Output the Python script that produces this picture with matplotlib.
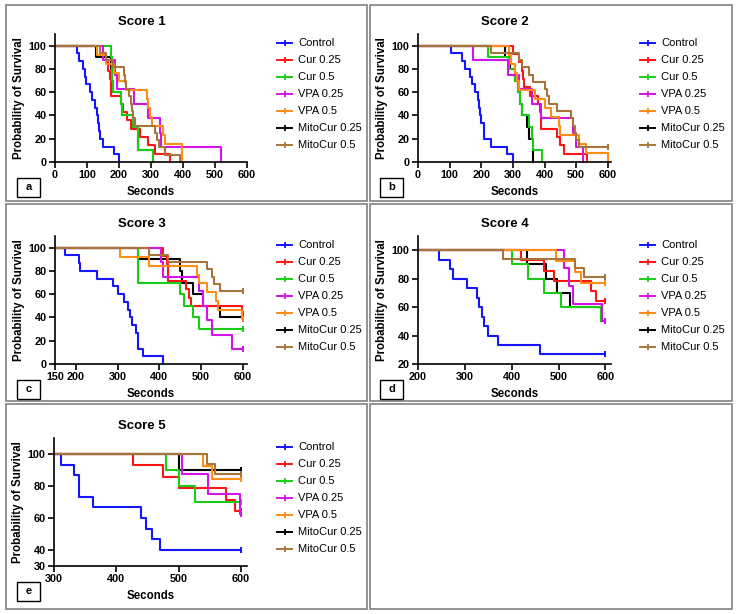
import matplotlib
matplotlib.use('Agg')
import matplotlib.pyplot as plt
from matplotlib.lines import Line2D
from matplotlib.patches import Rectangle

W, H = 738, 614
plt.rcParams['font.family'] = ['Liberation Sans', 'DejaVu Sans']

groups = ['Control', 'Cur 0.25', 'Cur 0.5', 'VPA 0.25', 'VPA 0.5', 'MitoCur 0.25', 'MitoCur 0.5']
colors = ['#1414ff', '#ff1414', '#18cc18', '#d214e6', '#ff8c14', '#000000', '#a8743c']

# Score 1 (time s, % survival)
a_control = [(0, 100), (70, 93.3), (75, 86.7), (88, 80), (95, 73.3), (98, 66.7), (110, 60), (117, 53.3),
             (125, 46.7), (130, 40), (133, 33.3), (137, 26.7), (140, 20), (150, 13.3), (185, 6.7), (200, 0)]
a_cur025 = [(0, 100), (151, 92.9), (159, 85.7), (166, 78.6), (172, 71.4), (176, 57.1), (206, 50), (213, 42.9),
            (224, 35.7), (237, 28.6), (266, 21.4), (292, 14.3), (313, 7.1), (360, 0)]
a_cur05 = [(0, 100), (175, 90), (178, 70), (182, 60), (205, 50), (208, 40), (245, 30), (260, 10), (307, 0)]
a_vpa025 = [(0, 100), (150, 87.5), (187, 75), (193, 62.5), (247, 50), (292, 37.5), (327, 25), (330, 12.5), (520, 0)]
a_vpa05 = [(0, 100), (132, 92.3), (160, 84.6), (185, 76.9), (200, 69.2), (222, 61.5), (287, 53.8), (292, 46.2),
           (298, 38.5), (303, 30.8), (337, 23.1), (345, 15.4), (398, 0)]
a_mito025 = [(0, 100), (128, 90), (175, 80), (178, 70), (182, 60), (205, 50), (208, 40), (245, 30), (258, 20),
             (260, 10), (307, 0)]
a_mito05 = [(0, 100), (140, 93.8), (160, 87.5), (182, 81.3), (215, 75), (218, 68.8), (222, 62.5), (232, 56.3),
            (238, 50), (242, 43.8), (245, 37.5), (250, 31.3), (312, 25), (318, 18.8), (325, 12.5), (345, 6.3),
            (390, 0)]

# Score 2
b_control = [(0, 100), (105, 93.3), (140, 86.7), (150, 80), (163, 73.3), (170, 66.7), (180, 60), (190, 53.3),
             (193, 46.7), (197, 40), (200, 33.3), (210, 20), (230, 13.3), (280, 6.7), (300, 0)]
b_cur025 = [(0, 100), (300, 92.9), (320, 85.7), (328, 78.6), (332, 71.4), (335, 64.3), (355, 57.1), (378, 50),
            (385, 42.9), (388, 35.7), (390, 28.6), (440, 21.4), (450, 14.3), (460, 7.1), (535, 0)]
b_cur05 = [(0, 100), (222, 90), (288, 80), (305, 70), (315, 60), (322, 50), (330, 40), (350, 30), (360, 20),
           (362, 10), (392, 0)]
b_vpa025 = [(0, 100), (175, 87.5), (285, 75), (320, 62.5), (360, 50), (388, 37.5), (490, 25), (500, 12.5), (520, 0)]
b_vpa05 = [(0, 100), (288, 92.3), (295, 84.6), (305, 76.9), (312, 69.2), (318, 61.5), (370, 53.8), (400, 46.2),
           (420, 38.5), (445, 30.8), (450, 23.1), (510, 15.4), (530, 7.7), (600, 0)]
b_mito025 = [(0, 100), (275, 90), (290, 80), (305, 70), (315, 60), (322, 50), (330, 40), (345, 30), (350, 20),
             (362, 0)]
b_mito05 = [(0, 100), (230, 93.8), (320, 87.5), (328, 81.3), (350, 75), (365, 68.8), (400, 62.5), (407, 56.3),
            (415, 50), (440, 43.8), (482, 37.5), (490, 31.3), (495, 25), (500, 18.8), (510, 12.5)]

# Score 3
c_control = [(150, 100), (175, 93.3), (208, 86.7), (210, 80), (250, 73.3), (290, 66.7), (300, 60), (315, 53.3),
             (325, 46.7), (330, 40), (335, 33.3), (345, 26.7), (348, 20), (350, 13.3), (360, 6.7), (408, 0)]
c_cur025 = [(150, 100), (408, 92.9), (418, 85.7), (420, 71.4), (465, 64.3), (470, 57.1), (475, 50), (597, 42.9)]
c_cur05 = [(150, 100), (350, 70), (450, 60), (460, 50), (480, 40), (495, 30)]
c_vpa025 = [(150, 100), (405, 87.5), (408, 75), (495, 62.5), (505, 50), (515, 37.5), (525, 25), (575, 12.5)]
c_vpa05 = [(150, 100), (305, 92.3), (375, 84.6), (490, 76.9), (495, 69.2), (515, 61.5), (535, 53.8), (540, 46.2),
           (598, 38.5)]
c_mito025 = [(150, 100), (350, 90), (450, 80), (455, 70), (480, 60), (505, 50), (545, 40)]
c_mito05 = [(150, 100), (375, 93.8), (420, 87.5), (515, 81.3), (525, 75), (530, 68.8), (545, 62.5)]

# Score 4
d_control = [(200, 100), (245, 93.3), (268, 86.7), (275, 80), (305, 73.3), (325, 66.7), (330, 60), (337, 53.3),
             (340, 46.7), (350, 40), (370, 33.3), (460, 26.7)]
d_cur025 = [(200, 100), (420, 92.9), (470, 85.7), (490, 78.6), (570, 71.4), (580, 64.3)]
d_cur05 = [(200, 100), (400, 90), (435, 80), (470, 70), (505, 60), (590, 50)]
d_vpa025 = [(200, 100), (512, 87.5), (522, 75), (530, 62.5), (592, 50)]
d_vpa05 = [(200, 100), (495, 92.3), (535, 84.6), (548, 76.9)]
d_mito025 = [(200, 100), (433, 90), (473, 80), (497, 70), (525, 60), (590, 50)]
d_mito05 = [(200, 100), (382, 93.8), (535, 87.5), (555, 81.3)]

# Score 5
e_control = [(300, 100), (312, 93.3), (332, 86.7), (340, 73.3), (363, 66.7), (440, 60), (447, 53.3), (457, 46.7),
             (470, 40)]
e_cur025 = [(300, 100), (427, 92.9), (475, 85.7), (500, 78.6), (576, 71.4), (590, 64.3)]
e_cur05 = [(300, 100), (480, 90), (500, 80), (527, 70)]
e_vpa025 = [(300, 100), (505, 87.5), (547, 75), (598, 62.5)]
e_vpa05 = [(300, 100), (540, 92.3), (553, 84.6)]
e_mito025 = [(300, 100), (500, 90)]
e_mito05 = [(300, 100), (545, 93.8), (558, 87.5)]


def fx(px):
    return px / W


def fy(py):
    return 1 - py / H


def km(ax, pts, color):
    t = [p[0] for p in pts]
    s = [p[1] for p in pts]
    if s[-1] > 0:
        t.append(600)
        s.append(s[-1])
    ax.step(t, s, where='post', color=color, lw=1.5, clip_on=False)
    if s[-1] > 0:
        ax.plot([600], [s[-1]], marker='|', ms=5, mew=1.4, color=color, clip_on=False)


fig = plt.figure(figsize=(W / 100, H / 100), dpi=100)

# panel frames
for (l, t, r, b) in [(6, 5, 367, 201), (370, 5, 732, 201), (6, 204, 367, 401), (370, 204, 732, 401),
                     (6, 404, 367, 609), (370, 404, 732, 609)]:
    fig.add_artist(Rectangle((fx(l), fy(b)), (r - l) / W, (b - t) / H, transform=fig.transFigure,
                             fill=False, edgecolor='#808080', lw=1.2))

panels = [
    dict(series=[a_control, a_cur025, a_cur05, a_vpa025, a_vpa05, a_mito025, a_mito05],
         box=(55, 34, 247, 162), xlim=(0, 600), ylim=(0, 110), xticks=range(0, 601, 100),
         yticks=range(0, 101, 20), title='Score 1', letter='a', dx=0, dy=0),
    dict(series=[b_control, b_cur025, b_cur05, b_vpa025, b_vpa05, b_mito025, b_mito05],
         box=(418, 34, 611, 162), xlim=(0, 610), ylim=(0, 110), xticks=range(0, 601, 100),
         yticks=range(0, 101, 20), title='Score 2', letter='b', dx=363, dy=0),
    dict(series=[c_control, c_cur025, c_cur05, c_vpa025, c_vpa05, c_mito025, c_mito05],
         box=(55, 236, 247, 364), xlim=(150, 610), ylim=(0, 110), xticks=[150, 200, 300, 400, 500, 600],
         yticks=range(0, 101, 20), title='Score 3', letter='c', dx=0, dy=202),
    dict(series=[d_control, d_cur025, d_cur05, d_vpa025, d_vpa05, d_mito025, d_mito05],
         box=(418, 236, 611, 364), xlim=(200, 612), ylim=(20, 110), xticks=range(200, 601, 100),
         yticks=range(20, 101, 20), title='Score 4', letter='d', dx=363, dy=202),
    dict(series=[e_control, e_cur025, e_cur05, e_vpa025, e_vpa05, e_mito025, e_mito05],
         box=(54, 438, 247, 566), xlim=(300, 610), ylim=(30, 110), xticks=range(300, 601, 100),
         yticks=[30, 40, 60, 80, 100], title='Score 5', letter='e', dx=0, dy=404),
]

draw_order = [5, 0, 1, 2, 3, 4, 6]

for p in panels:
    l, t, r, b = p['box']
    ax = fig.add_axes([fx(l), fy(b), (r - l) / W, (b - t) / H])
    for i in draw_order:
        km(ax, p['series'][i], colors[i])
    ax.set_xlim(*p['xlim'])
    ax.set_ylim(*p['ylim'])
    ax.set_xticks(list(p['xticks']))
    ax.set_yticks(list(p['yticks']))
    for s in ['top', 'right']:
        ax.spines[s].set_visible(False)
    for s in ['left', 'bottom']:
        ax.spines[s].set_linewidth(1.2)
    ax.tick_params(length=4, width=1.2, labelsize=7.8, pad=2)
    for lab in ax.get_xticklabels() + ax.get_yticklabels():
        lab.set_fontweight('bold')
    ax.set_xlabel('Seconds', fontsize=8.3, fontweight='bold', labelpad=4)
    ax.set_ylabel('Probability of Survival', fontsize=8.3, fontweight='bold', labelpad=3)

    dx, dy = p['dx'], p['dy']
    fig.text(fx(142 + dx), fy(22 + dy), p['title'], fontsize=9.5, fontweight='bold', ha='center', va='center')

    # letter box
    fig.add_artist(Rectangle((fx(17 + dx), fy(197 + dy)), 23 / W, 19 / H, transform=fig.transFigure,
                             fill=False, edgecolor='black', lw=1.0))
    fig.text(fx(28.5 + dx), fy(187.5 + dy), p['letter'], fontsize=8, fontweight='bold', ha='center', va='center')

    # legend
    for i, g in enumerate(groups):
        yy = fy(43 + dy + 17 * i)
        fig.add_artist(Line2D([fx(277 + dx), fx(292 + dx)], [yy, yy], transform=fig.transFigure,
                              color=colors[i], lw=1.4))
        fig.add_artist(Line2D([fx(284.5 + dx)], [yy], transform=fig.transFigure, color=colors[i],
                              marker='|', ms=5, mew=1.3))
        fig.text(fx(298 + dx), yy, g, fontsize=8, ha='left', va='center')

fig.savefig('out.png', dpi=100)
